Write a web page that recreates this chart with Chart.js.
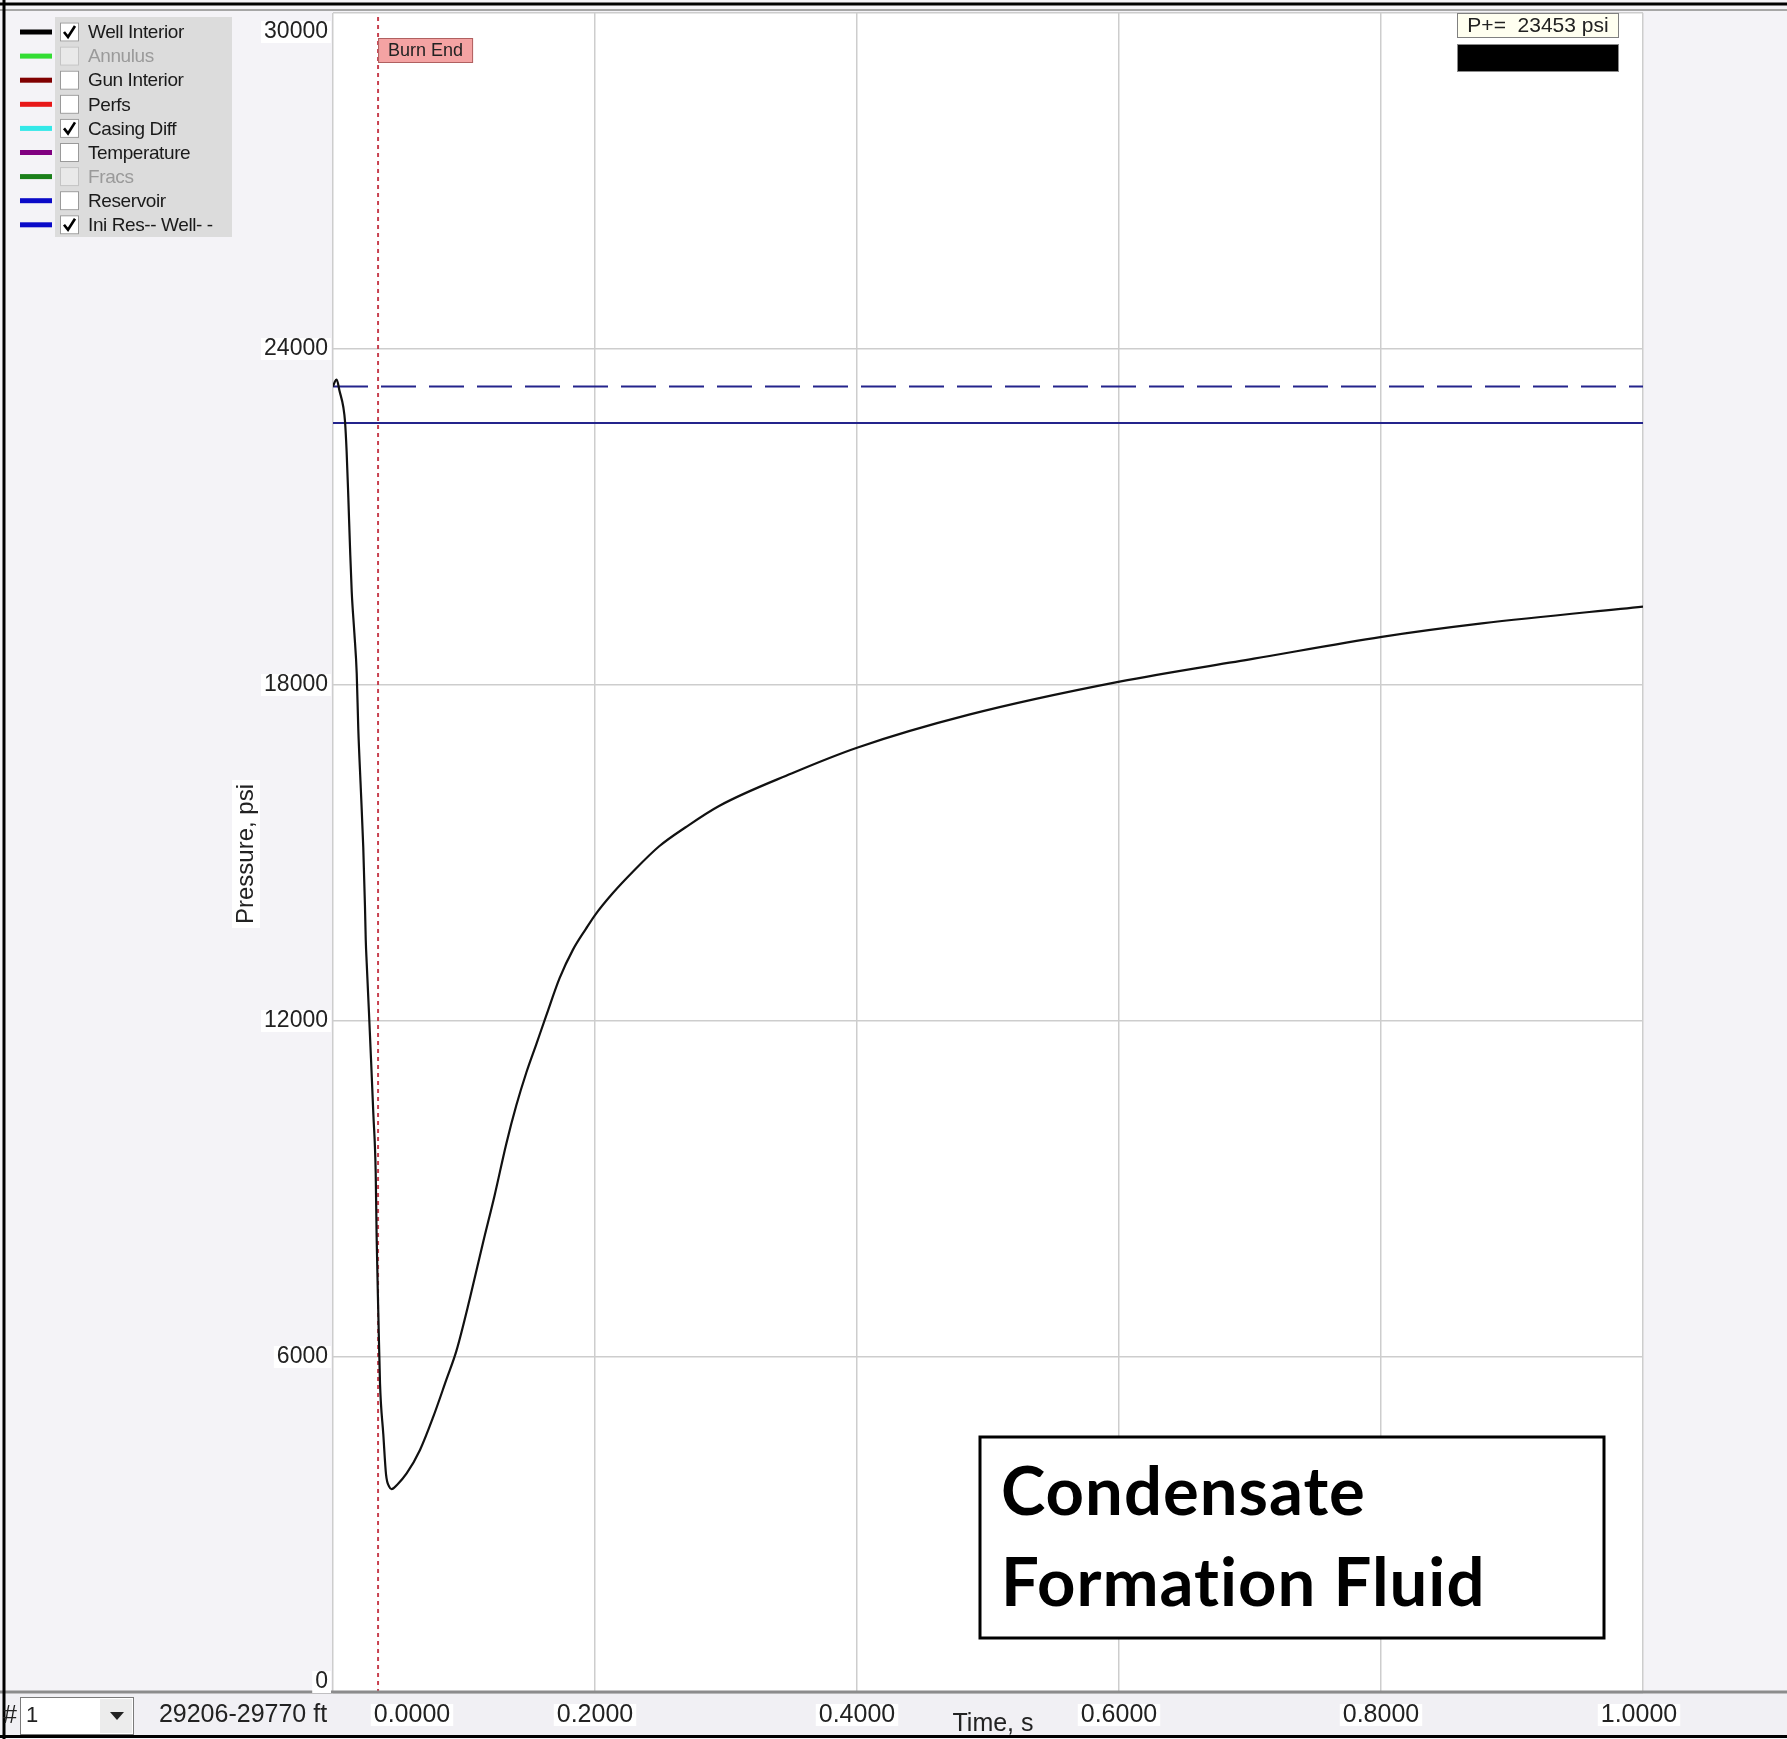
<!DOCTYPE html>
<html>
<head>
<meta charset="utf-8">
<title>Well Interior Pressure</title>
<script src="https://cdn.jsdelivr.net/npm/chart.js@4.4.1/dist/chart.umd.min.js"></script>
<style>
  html, body { margin: 0; padding: 0; background: #f4f3f7; }
  #wrap { width: 1787px; height: 1739px; }
</style>
</head>
<body>
<div id="wrap"><canvas id="pressureChart" width="1787" height="1739"></canvas></div>
<script>
// well interior pressure history, time in s, pressure in psi
var timeS = [0.0000, 0.0015, 0.0028, 0.0050, 0.0079, 0.0092, 0.0104, 0.0117, 0.0130, 0.0143,
  0.0163, 0.0181, 0.0193, 0.0212, 0.0231, 0.0244, 0.0250, 0.0257, 0.0275, 0.0290,
  0.0308, 0.0326, 0.0333, 0.0346, 0.0359, 0.0384, 0.0405, 0.0430, 0.0447, 0.0490,
  0.0562, 0.0664, 0.0765, 0.0866, 0.0942, 0.1044, 0.1146, 0.1234, 0.1323, 0.1399,
  0.1476, 0.1551, 0.1627, 0.1729, 0.1831, 0.1932, 0.2003, 0.2135, 0.2287, 0.2490,
  0.2692, 0.2947, 0.3500, 0.4000, 0.4855, 0.6004, 0.7030, 0.8006, 0.8770, 1.0000];
var wellPressure = [23330, 23420, 23453, 23250, 22960, 22700, 22170, 21350, 20450, 19660,
  18930, 18210, 17220, 16160, 15100, 14050, 13450, 13050, 12130, 11330,
  10340, 9290, 8160, 6770, 5520, 4620, 3900, 3680, 3640, 3720,
  3920, 4340, 4930, 5600, 6110, 7040, 8050, 8890, 9810, 10490,
  11080, 11580, 12090, 12760, 13270, 13650, 13900, 14280, 14660, 15120,
  15460, 15840, 16420, 16880, 17470, 18060, 18470, 18860, 19100, 19400];

var iniResPressure = 23330;
var iniWellPressure = 22680;
var burnEndTime = 0.0344;

var xTicks = [0, 0.2, 0.4, 0.6, 0.8, 1.0];
var yTicks = [0, 6000, 12000, 18000, 24000, 30000];

var legendNames = ['Well Interior', 'Annulus', 'Gun Interior', 'Perfs', 'Casing Diff',
  'Temperature', 'Fracs', 'Reservoir', 'Ini Res-- Well- -'];
var legendColors = ['#000000', '#33dd33', '#800000', '#e81818', '#33e8e8',
  '#800080', '#1a7f1a', '#0a0ac8', '#0a0ac8'];
var legendChecked = [true, false, false, false, true, false, false, false, true];
var legendEnabled = [true, false, true, true, true, true, false, true, true];

var depthRange = '29206-29770 ft';
var noteLines = ['Condensate', 'Formation Fluid'];

var peakPressure = Math.max.apply(null, wellPressure);

var wellPoints = timeS.map(function (t, i) { return { x: t, y: wellPressure[i] }; });

var F = 'Arial, "Liberation Sans", sans-serif';

function textBox(ctx, txt, cx, cy, font, align) {
  ctx.font = font;
  var w = ctx.measureText(txt).width;
  var left = align === 'right' ? cx - w : cx - w / 2;
  ctx.fillStyle = '#ffffff';
  ctx.fillRect(left - 3, cy - 11, w + 6, 22);
  ctx.fillStyle = '#222222';
  ctx.textAlign = align;
  ctx.textBaseline = 'middle';
  ctx.fillText(txt, cx, cy);
}

var panelPlugin = {
  id: 'panel',
  beforeDraw: function (chart) {
    var ctx = chart.ctx, a = chart.chartArea;
    ctx.save();
    ctx.fillStyle = '#f4f3f7';
    ctx.fillRect(0, 0, chart.width, chart.height);
    ctx.fillStyle = '#ffffff';
    ctx.fillRect(a.left, a.top, a.right - a.left, a.bottom - a.top);
    ctx.restore();
  },
  afterDraw: function (chart) {
    var ctx = chart.ctx, a = chart.chartArea;
    var xs = chart.scales.x, ys = chart.scales.y;
    ctx.save();

    // window frame
    ctx.strokeStyle = '#a6a6a6';
    ctx.lineWidth = 2;
    ctx.beginPath(); ctx.moveTo(0, 10); ctx.lineTo(chart.width, 10); ctx.stroke();
    ctx.strokeStyle = '#8c8c8c';
    ctx.lineWidth = 3;
    ctx.beginPath(); ctx.moveTo(0, a.bottom - 1); ctx.lineTo(chart.width, a.bottom - 1); ctx.stroke();
    ctx.fillStyle = '#f1f0f4';
    ctx.fillRect(5, a.bottom + 1, chart.width, chart.height - a.bottom - 4);
    ctx.strokeStyle = '#000000';
    ctx.lineWidth = 3;
    ctx.beginPath(); ctx.moveTo(0, 4); ctx.lineTo(chart.width, 4); ctx.stroke();
    ctx.beginPath(); ctx.moveTo(0, chart.height - 2.5); ctx.lineTo(chart.width, chart.height - 2.5); ctx.stroke();
    ctx.beginPath(); ctx.moveTo(4, 0); ctx.lineTo(4, chart.height); ctx.stroke();

    // y tick labels
    yTicks.forEach(function (v) {
      var py = Math.min(Math.max(ys.getPixelForValue(v), a.top + 19), a.bottom - 11);
      textBox(ctx, String(v), a.left - 5, py, '23px ' + F, 'right');
    });
    // x tick labels
    xTicks.forEach(function (v) {
      var px = Math.min(Math.max(xs.getPixelForValue(v), a.left + 79), a.right - 4);
      textBox(ctx, v.toFixed(4), px, a.bottom + 22, '25px ' + F, 'center');
    });

    // axis titles
    ctx.fillStyle = '#222222';
    ctx.font = '25px ' + F;
    ctx.textAlign = 'center';
    ctx.textBaseline = 'middle';
    ctx.fillText('Time, s', 993, a.bottom + 31);
    ctx.save();
    ctx.translate(246, 854);
    ctx.rotate(-Math.PI / 2);
    ctx.font = '24px ' + F;
    var tw = ctx.measureText('Pressure, psi').width;
    ctx.fillStyle = '#ffffff';
    ctx.fillRect(-tw / 2 - 4, -14, tw + 8, 28);
    ctx.fillStyle = '#222222';
    ctx.fillText('Pressure, psi', 0, 0);
    ctx.restore();

    // zone selector and depth range
    ctx.fillStyle = '#222222';
    ctx.font = '25px ' + F;
    ctx.textAlign = 'right';
    ctx.fillText('#', 17, a.bottom + 23);
    ctx.fillStyle = '#ffffff';
    ctx.fillRect(20, a.bottom + 4, 114, 38);
    ctx.strokeStyle = '#7a7a7a';
    ctx.lineWidth = 1;
    ctx.strokeRect(20.5, a.bottom + 4.5, 113, 37);
    ctx.fillStyle = '#ececec';
    ctx.fillRect(100, a.bottom + 6, 32, 34);
    ctx.fillStyle = '#222222';
    ctx.textAlign = 'left';
    ctx.font = '22px ' + F;
    ctx.fillText('1', 26, a.bottom + 23);
    ctx.beginPath();
    ctx.moveTo(110, a.bottom + 19); ctx.lineTo(124, a.bottom + 19); ctx.lineTo(117, a.bottom + 27);
    ctx.closePath(); ctx.fill();
    ctx.font = '25px ' + F;
    ctx.textAlign = 'center';
    ctx.fillText(depthRange, 243, a.bottom + 22);

    // series legend with check boxes
    ctx.fillStyle = '#dcdcdc';
    ctx.fillRect(55, 17, 177, 220);
    legendNames.forEach(function (name, i) {
      var cy = 32 + i * 24.1;
      ctx.fillStyle = legendColors[i];
      ctx.fillRect(20, cy - 2.5, 32, 5);
      ctx.fillStyle = legendEnabled[i] ? '#ffffff' : '#e9e9e9';
      ctx.fillRect(60, cy - 9.5, 19, 19);
      ctx.strokeStyle = legendEnabled[i] ? '#9a9a9a' : '#c4c4c4';
      ctx.lineWidth = 1;
      ctx.strokeRect(60.5, cy - 9, 18, 18);
      if (legendChecked[i]) {
        ctx.strokeStyle = '#000000';
        ctx.lineWidth = 2.6;
        ctx.beginPath();
        ctx.moveTo(64, cy); ctx.lineTo(68, cy + 5); ctx.lineTo(75, cy - 6);
        ctx.stroke();
      }
      ctx.fillStyle = legendEnabled[i] ? '#1a1a1a' : '#9a9a9a';
      ctx.font = '19px ' + F;
      ctx.letterSpacing = '-0.4px';
      ctx.textAlign = 'left';
      ctx.textBaseline = 'middle';
      ctx.fillText(name, 88, cy + 1);
      ctx.letterSpacing = '0px';
    });

    // burn end marker label
    var bx = xs.getPixelForValue(burnEndTime);
    ctx.fillStyle = '#f4a3a3';
    ctx.fillRect(bx, 38, 95, 25);
    ctx.strokeStyle = '#b06060';
    ctx.lineWidth = 1;
    ctx.strokeRect(bx + 0.5, 38.5, 94, 24);
    ctx.fillStyle = '#222222';
    ctx.font = '18px ' + F;
    ctx.fillText('Burn End', bx + 10, 51);

    // peak pressure readout
    ctx.fillStyle = '#fffff0';
    ctx.fillRect(1457, 13, 162, 25);
    ctx.strokeStyle = '#808080';
    ctx.strokeRect(1457.5, 13.5, 161, 24);
    ctx.fillStyle = '#222222';
    ctx.font = '21px ' + F;
    ctx.textAlign = 'center';
    ctx.fillText('P+=  ' + peakPressure + ' psi', 1538, 26);
    ctx.fillStyle = '#000000';
    ctx.fillRect(1457, 44, 162, 28);
    ctx.strokeStyle = '#8a8a8a';
    ctx.strokeRect(1457.5, 44.5, 161, 27);

    // fluid note
    ctx.fillStyle = '#ffffff';
    ctx.fillRect(980, 1436, 625, 203);
    ctx.strokeStyle = '#000000';
    ctx.lineWidth = 3;
    ctx.strokeRect(980, 1437, 624, 201);
    ctx.fillStyle = '#000000';
    ctx.font = 'bold 67px Lato, "Open Sans", sans-serif';
    ctx.letterSpacing = '1px';
    ctx.textAlign = 'left';
    ctx.textBaseline = 'alphabetic';
    ctx.fillText(noteLines[0], 1001, 1515);
    ctx.fillText(noteLines[1], 1001, 1606);
    ctx.letterSpacing = '0px';

    ctx.restore();
  }
};

var ctx = document.getElementById('pressureChart').getContext('2d');

var chart = new Chart(ctx, {
  type: 'line',
  data: {
    datasets: [
      {
        label: 'Well Interior',
        data: wellPoints,
        borderColor: '#111111',
        borderWidth: 2.2,
        pointRadius: 0,
        cubicInterpolationMode: 'monotone'
      },
      {
        label: 'Ini Res',
        data: [{ x: 0, y: iniResPressure }, { x: 1, y: iniResPressure }],
        borderColor: '#24248c',
        borderWidth: 2,
        borderDash: [35, 13],
        pointRadius: 0
      },
      {
        label: 'Well',
        data: [{ x: 0, y: iniWellPressure }, { x: 1, y: iniWellPressure }],
        borderColor: '#24248c',
        borderWidth: 2,
        pointRadius: 0
      },
      {
        label: 'Burn End',
        data: [{ x: burnEndTime, y: 0 }, { x: burnEndTime, y: 30000 }],
        borderColor: '#c8404f',
        borderWidth: 2,
        borderDash: [4, 4],
        pointRadius: 0
      }
    ]
  },
  options: {
    responsive: false,
    animation: false,
    layout: { padding: { left: 333, right: 144, top: 13, bottom: 46 } },
    plugins: { legend: { display: false }, tooltip: { enabled: false } },
    scales: {
      x: {
        type: 'linear',
        min: 0,
        max: 1,
        afterFit: function (s) { s.height = 0; },
        ticks: { display: false, stepSize: 0.2 },
        grid: { color: '#cdcdcd', lineWidth: 1.5, drawTicks: false },
        border: { display: false }
      },
      y: {
        min: 0,
        max: 30000,
        afterFit: function (s) { s.width = 0; },
        ticks: { display: false, stepSize: 6000 },
        grid: { color: '#cdcdcd', lineWidth: 1.5, drawTicks: false },
        border: { display: false }
      }
    }
  },
  plugins: [panelPlugin]
});
</script>
</body>
</html>
